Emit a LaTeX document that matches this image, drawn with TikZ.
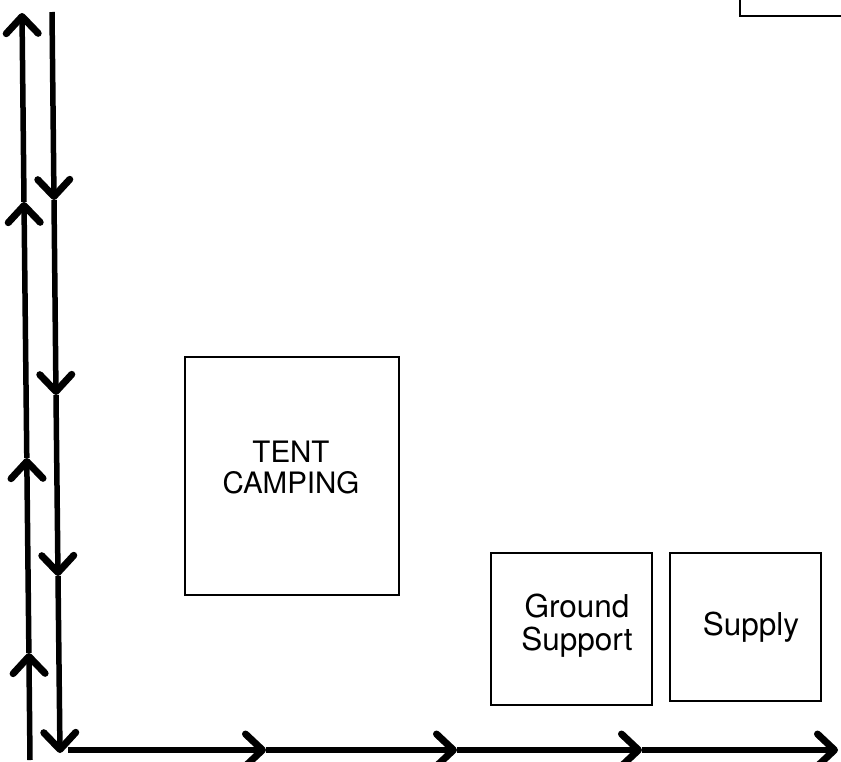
\documentclass[tikz,border=0pt]{standalone}
\usepackage{fontspec}
\setmainfont{TeX Gyre Heros}
\usetikzlibrary{arrows.meta}
\begin{document}
\begin{tikzpicture}[x=1pt,y=-1pt,
  flow/.style={line width=5.5pt, -{Straight Barb[length=17pt,width=32pt,line width=7pt,round]}},
  box/.style={draw, line width=2.8pt, inner sep=0pt},
  lab/.style={font=\fontsize{29.5}{31}\selectfont, align=center, inner sep=0pt},
  lab2/.style={font=\fontsize{31.5}{33}\selectfont, align=center, inner sep=0pt}]
\useasboundingbox (0,0) rectangle (841,761);
% up line (left)
\coordinate (u0) at (30,760);
\coordinate (u1) at (28.9,653);
\coordinate (u2) at (26.8,458);
\coordinate (u3) at (24,202);
\coordinate (u4) at (22,13);
\draw[flow] (u0) -- (u1);
\draw[flow] (u1) -- (u2);
\draw[flow] (u2) -- (u3);
\draw[flow] (u3) -- (u4);
% down line (right)
\coordinate (d0) at (52,12);
\coordinate (d1) at (54,200);
\coordinate (d2) at (56,395);
\coordinate (d3) at (58,576);
\coordinate (d4) at (60,753);
\draw[flow] (d0) -- (d1);
\draw[flow] (d1) -- (d2);
\draw[flow] (d2) -- (d3);
\draw[flow] (d3) -- (d4);
% bottom line
\coordinate (h0) at (68,750);
\coordinate (h1) at (266,750);
\coordinate (h2) at (457,750);
\coordinate (h3) at (642,750);
\coordinate (h4) at (838,750);
\draw[flow] (h0) -- (h1);
\draw[flow] (h1) -- (h2);
\draw[flow] (h2) -- (h3);
\draw[flow] (h3) -- (h4);
% boxes
\node[box, minimum width=214pt, minimum height=238pt] (tent) at (292,476) {};
\node[lab] (tentlab) at (291,468) {TENT\\CAMPING};
\node[box, minimum width=161pt, minimum height=152pt] (ground) at (571.5,629) {};
\node[lab2] (groundlab) at (577,626) {Ground\\Support};
\node[box, minimum width=151pt, minimum height=148pt] (supply) at (745.5,627) {};
\node[lab2] (supplylab) at (751,627) {Supply};
% partial box top right
\coordinate (t0) at (740,0);
\coordinate (t1) at (740,16);
\coordinate (t2) at (841,16);
\draw[line width=2.8pt] (t0) -- (t1) -- (t2);
\end{tikzpicture}
\end{document}
